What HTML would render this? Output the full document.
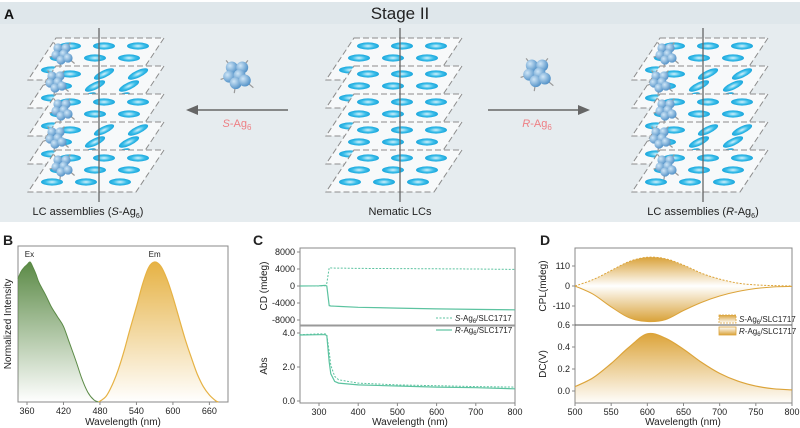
<!DOCTYPE html>
<html><head><meta charset="utf-8"><style>
html,body{margin:0;padding:0;background:#fff;}
svg{display:block;font-family:"Liberation Sans",Arial,sans-serif;}
</style></head><body>
<svg id="fig" width="800" height="428" viewBox="0 0 800 428" xmlns="http://www.w3.org/2000/svg">
<defs>
<linearGradient id="gEx" x1="0" y1="0" x2="0" y2="1"><stop offset="0" stop-color="#5b8a46"/><stop offset="1" stop-color="#5b8a46" stop-opacity="0"/></linearGradient>
<linearGradient id="gEm" x1="0" y1="0" x2="0" y2="1"><stop offset="0" stop-color="#e6b244"/><stop offset="1" stop-color="#e6b244" stop-opacity="0"/></linearGradient>
<linearGradient id="gCplUp" x1="0" y1="0" x2="0" y2="1"><stop offset="0" stop-color="#d9a23a"/><stop offset="1" stop-color="#d9a23a" stop-opacity="0"/></linearGradient>
<linearGradient id="gCplDn" x1="0" y1="1" x2="0" y2="0"><stop offset="0" stop-color="#d9a23a"/><stop offset="1" stop-color="#d9a23a" stop-opacity="0"/></linearGradient>
<linearGradient id="gDC" x1="0" y1="0" x2="0" y2="1"><stop offset="0" stop-color="#dca43a"/><stop offset="1" stop-color="#dca43a" stop-opacity="0.02"/></linearGradient>
<radialGradient id="gEll" cx="0.5" cy="0.5" r="0.5"><stop offset="0" stop-color="#d8f2fb"/><stop offset="0.6" stop-color="#39bde9"/><stop offset="1" stop-color="#1aa6dc"/></radialGradient>
<radialGradient id="gAg" cx="0.35" cy="0.35" r="0.7"><stop offset="0" stop-color="#cfe6f7"/><stop offset="1" stop-color="#4f8fc6"/></radialGradient>
</defs>
<g id="panelA">
<rect x="0" y="2" width="800" height="220" fill="#e6ecef"/>
<rect x="0" y="2" width="800" height="22" fill="#dfe7eb"/>
<text x="4" y="19" font-size="14" font-weight="bold" fill="#111">A</text>
<text x="400" y="19" font-size="17" text-anchor="middle" fill="#222">Stage II</text>
<g id="stacks"></g>
<line x1="288" y1="110" x2="192" y2="110" stroke="#666" stroke-width="1.5"/>
<polygon points="186,110 198,105 198,115" fill="#666"/>
<text x="237" y="127" font-size="11" text-anchor="middle" fill="#ee7f84"><tspan font-style="italic">S</tspan>-Ag<tspan font-size="8" dy="3">6</tspan></text>
<line x1="488" y1="110" x2="584" y2="110" stroke="#666" stroke-width="1.5"/>
<polygon points="590,110 578,105 578,115" fill="#666"/>
<text x="537" y="127" font-size="11" text-anchor="middle" fill="#ee7f84"><tspan font-style="italic">R</tspan>-Ag<tspan font-size="8" dy="3">6</tspan></text>
<text x="88" y="215" font-size="11" text-anchor="middle" fill="#222">LC assemblies (<tspan font-style="italic">S</tspan>-Ag<tspan font-size="7" dy="3">6</tspan><tspan dy="-3">)</tspan></text>
<text x="400" y="215" font-size="11" text-anchor="middle" fill="#222">Nematic LCs</text>
<text x="703" y="215" font-size="11" text-anchor="middle" fill="#222">LC assemblies (<tspan font-style="italic">R</tspan>-Ag<tspan font-size="7" dy="3">6</tspan><tspan dy="-3">)</tspan></text>
</g>
<g id="charts"></g>
</svg>
<script>
// ---- Panel B data ----
const exWl = [345,350,355,360,365,370,375,380,390,400,410,420,430,440,450,460,470,478];
const exVal = [0.88,0.93,0.96,0.98,1.0,0.96,0.91,0.85,0.77,0.68,0.61,0.54,0.42,0.30,0.17,0.07,0.015,0];
const emWl = [478,490,500,510,520,530,540,550,560,570,580,590,600,610,620,630,640,650,660,670,675];
const emVal = [0,0.04,0.12,0.23,0.37,0.53,0.68,0.84,0.96,1.0,0.97,0.88,0.75,0.60,0.45,0.32,0.20,0.11,0.05,0.01,0];
const bTicks = [360,420,480,540,600,660];
// ---- Panel C data ----
const cWl = [250,300,316,320,326,330,340,350,400,500,600,700,800];
const cdS = [0,0,100,600,4300,4250,4200,4200,4150,4100,4050,4000,3900];
const cdR = [0,50,150,0,-4600,-4700,-4750,-4800,-5000,-5200,-5400,-5500,-5600];
const absS = [3.9,3.95,3.95,3.9,2.9,2.1,1.45,1.25,1.05,0.95,0.9,0.85,0.82];
const absR = [3.88,3.9,3.9,3.85,2.3,1.6,1.15,1.05,0.95,0.88,0.82,0.78,0.72];
const cXTicks = [300,400,500,600,700,800];
const cdTicks = [8000,4000,0,-4000,-8000];
const absTicks = [4.0,2.0,0.0];
// ---- Panel D data ----
const dWl = [500,525,550,575,600,625,650,675,700,725,750,775,800];
const cplS = [0,35,85,135,158,150,115,70,38,16,6,2,0];
const cplR = [0,-45,-115,-175,-195,-185,-135,-90,-55,-30,-14,-5,-2];
const dcVal = [0.04,0.12,0.25,0.40,0.52,0.48,0.38,0.26,0.16,0.09,0.045,0.02,0.01];
const dXTicks = [500,550,600,650,700,750,800];
const cplTicks = [110,0,-110];
const dcTicks = [0.6,0.4,0.2,0.0];

const NS='http://www.w3.org/2000/svg';
const charts=document.getElementById('charts');
function mk(tag,attrs,parent){const e=document.createElementNS(NS,tag);for(const k in attrs)e.setAttribute(k,attrs[k]);(parent||charts).appendChild(e);return e;}
function txt(x,y,s,size,anchor,parent){const t=mk('text',{x:x,y:y,'font-size':size,'text-anchor':anchor||'middle',fill:'#222'},parent);t.textContent=s;return t;}
function lin(d0,d1,r0,r1){return v=>r0+(v-d0)*(r1-r0)/(d1-d0);}
function pathOf(xs,ys,sx,sy){return xs.map((v,i)=>(i?'L':'M')+sx(v).toFixed(1)+','+sy(ys[i]).toFixed(1)).join(' ');}
function smoothOf(xs,ys,sx,sy){
  const P=xs.map((v,i)=>[sx(v),sy(ys[i])]);
  let d='M'+P[0][0].toFixed(1)+','+P[0][1].toFixed(1);
  for(let i=0;i<P.length-1;i++){
    const p0=P[Math.max(0,i-1)],p1=P[i],p2=P[i+1],p3=P[Math.min(P.length-1,i+2)];
    const c1=[p1[0]+(p2[0]-p0[0])/6,p1[1]+(p2[1]-p0[1])/6];
    const c2=[p2[0]-(p3[0]-p1[0])/6,p2[1]-(p3[1]-p1[1])/6];
    d+=` C${c1[0].toFixed(1)},${c1[1].toFixed(1)} ${c2[0].toFixed(1)},${c2[1].toFixed(1)} ${p2[0].toFixed(1)},${p2[1].toFixed(1)}`;
  }
  return d;
}

// ===== Panel B =====
{
const sx=lin(360,660,27,209.4), sy=lin(0,1,402,262);
txt(3,245,'B',14,'start').setAttribute('font-weight','bold');
const fr=mk('rect',{x:18,y:246,width:210,height:156,fill:'none',stroke:'#888','stroke-width':1});


const exA=mk('path',{d:smoothOf(exWl,exVal,sx,sy)+` L${sx(478)},402 L18,402 L18,${sy(exVal[0])} Z`,fill:'url(#gEx)'});


const exL=mk('path',{d:smoothOf(exWl,exVal,sx,sy),fill:'none',stroke:'#5b8a46','stroke-width':1});


const emA=mk('path',{d:smoothOf(emWl,emVal,sx,sy)+' Z',fill:'url(#gEm)'});


const emL=mk('path',{d:smoothOf(emWl,emVal,sx,sy),fill:'none',stroke:'#e6b244','stroke-width':1.2});


const ex=txt(sx(364),257,'Ex',8);
const em=txt(sx(570),257,'Em',8);
bTicks.forEach(t=>{mk('line',{x1:sx(t),x2:sx(t),y1:402,y2:405,stroke:'#888'});const l=txt(sx(t),414,String(t),9);

});
const xt=txt(123,425,'Wavelength (nm)',10);
const yt=txt(0,0,'Normalized Intensity',10);yt.setAttribute('transform','translate(11,324) rotate(-90)');


}

// ===== Panel C =====
{
const sx=lin(300,800,319,515), syT=lin(0,4000,286,269), syB=lin(0,4,401,333);
txt(253,245,'C',14,'start').setAttribute('font-weight','bold');
const fr=mk('rect',{x:300,y:248,width:215,height:155,fill:'none',stroke:'#888','stroke-width':1});


mk('line',{x1:300,x2:515,y1:325.5,y2:325.5,stroke:'#999','stroke-width':2});
const teal='#5cc3a0';
const l1=mk('path',{d:pathOf(cWl,cdS,sx,syT),fill:'none',stroke:teal,'stroke-width':1,'stroke-dasharray':'2,1.5'});

const l2=mk('path',{d:pathOf(cWl,cdR,sx,syT),fill:'none',stroke:teal,'stroke-width':1.2});

const l3=mk('path',{d:pathOf(cWl,absS,sx,syB),fill:'none',stroke:teal,'stroke-width':1,'stroke-dasharray':'2,1.5'});

const l4=mk('path',{d:pathOf(cWl,absR,sx,syB),fill:'none',stroke:teal,'stroke-width':1.2});

cXTicks.forEach(t=>{mk('line',{x1:sx(t),x2:sx(t),y1:403,y2:406,stroke:'#888'});const l=txt(sx(t),415,String(t),9);
});
cdTicks.forEach(t=>{mk('line',{x1:297,x2:300,y1:syT(t),y2:syT(t),stroke:'#888'});const l=txt(295,syT(t)+3,String(t),9,'end');
});
absTicks.forEach(t=>{mk('line',{x1:297,x2:300,y1:syB(t),y2:syB(t),stroke:'#888'});const l=txt(295,syB(t)+3,t.toFixed(1),9,'end');
});
const xt=txt(410,425,'Wavelength (nm)',10);
const y1=txt(0,0,'CD (mdeg)',10);y1.setAttribute('transform','translate(267,286) rotate(-90)');

const y2=txt(0,0,'Abs',10);y2.setAttribute('transform','translate(267,366) rotate(-90)');

mk('line',{x1:436,x2:452,y1:318,y2:318,stroke:teal,'stroke-dasharray':'2,1.5'});
mk('line',{x1:436,x2:452,y1:330,y2:330,stroke:teal,'stroke-width':1.2});
const g1=mk('text',{x:455,y:321,'font-size':8,fill:'#222'});g1.innerHTML='<tspan font-style="italic">S</tspan>-Ag<tspan font-size="6" dy="2">6</tspan><tspan dy="-2">/SLC1717</tspan>';

const g2=mk('text',{x:455,y:333,'font-size':8,fill:'#222'});g2.innerHTML='<tspan font-style="italic">R</tspan>-Ag<tspan font-size="6" dy="2">6</tspan><tspan dy="-2">/SLC1717</tspan>';

}

// ===== Panel D =====
{
const sx=lin(500,800,575,792), syT=lin(0,110,286,266), syB=lin(0,0.2,391,369);
txt(540,245,'D',14,'start').setAttribute('font-weight','bold');
const fr=mk('rect',{x:575,y:248,width:217,height:155,fill:'none',stroke:'#888','stroke-width':1});

mk('line',{x1:575,x2:792,y1:325,y2:325,stroke:'#555','stroke-width':1});
const z=syT(0);
const a1=mk('path',{d:smoothOf(dWl,cplS,sx,syT)+` L${sx(800)},${z} L${sx(500)},${z} Z`,fill:'url(#gCplUp)'});

const a2=mk('path',{d:smoothOf(dWl,cplR,sx,syT)+` L${sx(800)},${z} L${sx(500)},${z} Z`,fill:'url(#gCplDn)'});

const l1=mk('path',{d:smoothOf(dWl,cplS,sx,syT),fill:'none',stroke:'#dca43a','stroke-width':1,'stroke-dasharray':'2,1.5'});

const l2=mk('path',{d:smoothOf(dWl,cplR,sx,syT),fill:'none',stroke:'#dca43a','stroke-width':1});

const a3=mk('path',{d:smoothOf(dWl,dcVal,sx,syB)+` L${sx(800)},403 L${sx(500)},403 Z`,fill:'url(#gDC)'});

const l3=mk('path',{d:smoothOf(dWl,dcVal,sx,syB),fill:'none',stroke:'#dca43a','stroke-width':1.2});

dXTicks.forEach(t=>{mk('line',{x1:sx(t),x2:sx(t),y1:403,y2:406,stroke:'#888'});const l=txt(sx(t),415,String(t),9);
});
cplTicks.forEach(t=>{mk('line',{x1:572,x2:575,y1:syT(t),y2:syT(t),stroke:'#888'});const l=txt(570,syT(t)+3,String(t),9,'end');
});
dcTicks.forEach(t=>{mk('line',{x1:572,x2:575,y1:syB(t),y2:syB(t),stroke:'#888'});const l=txt(570,syB(t)+3,t.toFixed(1),9,'end');
});
const xt=txt(683,425,'Wavelength (nm)',10);
const y1=txt(0,0,'CPL(mdeg)',10);y1.setAttribute('transform','translate(546,286) rotate(-90)');

const y2=txt(0,0,'DC(V)',10);y2.setAttribute('transform','translate(546,364) rotate(-90)');

mk('rect',{x:719,y:315,width:17,height:8,fill:'url(#gCplUp)',stroke:'#dca43a','stroke-dasharray':'2,1','stroke-width':0.8});
mk('rect',{x:719,y:327,width:17,height:8,fill:'url(#gCplDn)',stroke:'#dca43a','stroke-width':0.8});
const g1=mk('text',{x:739,y:322,'font-size':8,fill:'#222'});g1.innerHTML='<tspan font-style="italic">S</tspan>-Ag<tspan font-size="6" dy="2">6</tspan><tspan dy="-2">/SLC1717</tspan>';

const g2=mk('text',{x:739,y:334,'font-size':8,fill:'#222'});g2.innerHTML='<tspan font-style="italic">R</tspan>-Ag<tspan font-size="6" dy="2">6</tspan><tspan dy="-2">/SLC1717</tspan>';

}

// ===== Panel A stacks (decorative schematic) =====
{
const st=document.getElementById('stacks');
function molecule(cx,cy,s){
  const g=mk('g',{},st);
  const pts=[[-4,-5],[4,-5],[-6,2],[2,1],[-1,7],[6,5]];
  pts.forEach(p=>{mk('line',{x1:cx+p[0]*s,y1:cy+p[1]*s,x2:cx+p[0]*s*2.1,y2:cy+p[1]*s*2.1,stroke:'#999','stroke-width':1.2},g);
    mk('circle',{cx:cx+p[0]*s*1.3,cy:cy+p[1]*s*1.3,r:1.3*s,fill:'#f29a1e'},g);});
  pts.forEach(p=>mk('circle',{cx:cx+p[0]*s,cy:cy+p[1]*s,r:4.6*s,fill:'url(#gAg)'},g));
  return g;
}
function stack(L,lineX,withMol,twist,name){
  const g=mk('g',{},st);
  
  
  for(let i=0;i<5;i++){
    const y=38+i*28, h=42, w=108, sk=28;
    mk('polygon',{points:`${L+sk},${y} ${L+sk+w},${y} ${L+w},${y+h} ${L},${y+h}`,fill:'#f7f9fa',stroke:'#8c8c8c','stroke-width':1,'stroke-dasharray':'6,3'},g);
    for(let r=0;r<3;r++){for(let c=0;c<3;c++){
      const ex=L+sk+14+c*34-r*9, ey=y+8+r*12;
      const rot=(twist && (i==1||i==3) && c>0)? -25:0;
      mk('ellipse',{cx:ex,cy:ey,rx:11,ry:3.6,fill:'url(#gEll)',transform:`rotate(${rot} ${ex} ${ey})`},g);
    }}
    if(withMol) molecule(L+sk+6-(i%2)*6, y+15, 1.0);
  }
  mk('line',{x1:lineX,x2:lineX,y1:28,y2:202,stroke:'#666','stroke-width':1.3},g);
}
stack(28,99,true,true,'lc-stack-s');
stack(326,400,false,false,'nematic-stack');
stack(632,703,true,true,'lc-stack-r');
molecule(237,74,1.3);
molecule(537,72,1.3);
}
</script>
</body></html>
